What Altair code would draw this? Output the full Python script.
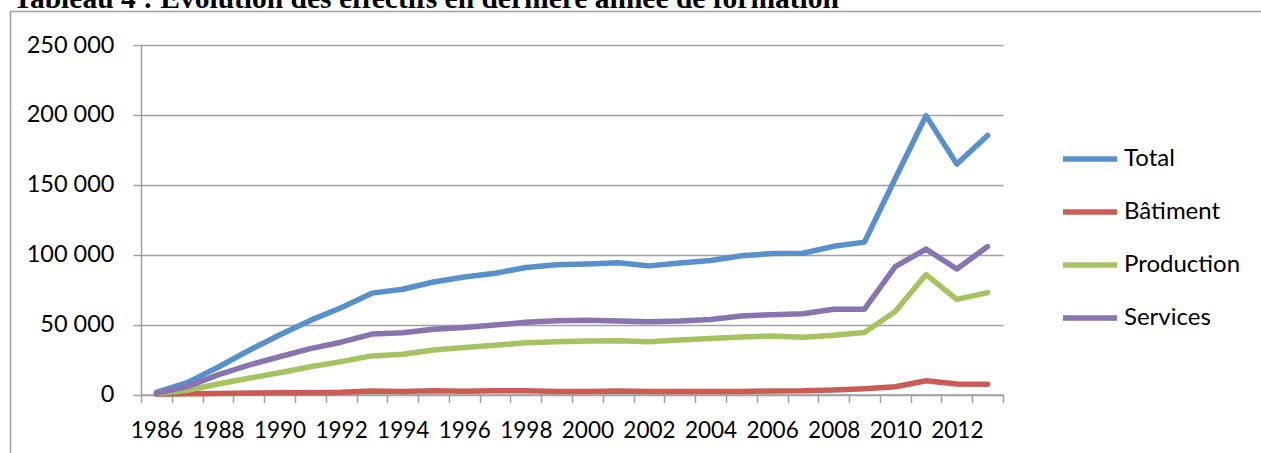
import altair as alt
import pandas as pd

# Effectifs en dernière année de formation, par secteur (1986-2013)
annees = list(range(1986, 2014))
series = ["Total", "Bâtiment", "Production", "Services"]
couleurs = ["#5890CB", "#CB5C55", "#A5C461", "#8A73B1"]

total = [1500, 8500, 19500, 31500, 42500, 53000, 62000, 72500, 75300, 80500,
         84000, 86700, 90800, 92800, 93300, 94200, 92000, 94000, 95800, 99200,
         100800, 101000, 106000, 109000, 154500, 199500, 164800, 185300]
batiment = [200, 500, 800, 1000, 1200, 1300, 1600, 2500, 2200, 2600,
            2300, 2600, 2600, 2200, 2200, 2500, 2200, 2200, 2200, 2200,
            2500, 2600, 3200, 4200, 5500, 9800, 7500, 7400]
production = [500, 3000, 7500, 11600, 15600, 19800, 23500, 27600, 28800, 31900,
              33700, 35200, 37000, 37800, 38200, 38500, 37800, 38900, 40000, 41200,
              41800, 41000, 42400, 44300, 59300, 85800, 68000, 72900]
services = [800, 5600, 14000, 21000, 27000, 32800, 37400, 43200, 44200, 46700,
            48000, 49700, 51600, 52700, 53200, 52600, 52000, 52500, 53700, 56200,
            57100, 57700, 61000, 61000, 91500, 104000, 89800, 105800]
graduations = [0, 50000, 100000, 150000, 200000, 250000]
titre = "Tableau 4 : Évolution des effectifs en dernière année de formation"

valeurs = {"Total": total, "Bâtiment": batiment,
           "Production": production, "Services": services}
df = pd.DataFrame([
    {"annee": a, "serie": s, "effectif": v}
    for s in series for a, v in zip(annees, valeurs[s])
])

GRIS = "#A0A0A0"

lignes = alt.Chart(df).mark_line(
    strokeWidth=5.5, strokeJoin="round", strokeCap="round"
).encode(
    x=alt.X(
        "annee:O",
        bandPosition=0.5,
        scale=alt.Scale(type="band", paddingInner=0, paddingOuter=0),
        axis=alt.Axis(
            title=None, grid=False, tickBand="extent", labelAngle=0,
            labelOverlap=False,
            labelExpr="datum.value % 2 == 0 ? datum.value : ''",
            domainColor=GRIS, domainWidth=1.5, tickColor=GRIS, tickWidth=1.5,
            tickSize=8, labelPadding=17, labelFont="Lato", labelFontSize=22.5,
            labelColor="black",
        ),
    ),
    y=alt.Y(
        "effectif:Q",
        scale=alt.Scale(domain=[0, 250000], nice=False),
        axis=alt.Axis(
            title=None, values=graduations, grid=True, gridColor=GRIS,
            gridWidth=1.5, domainColor=GRIS, domainWidth=1.5, tickColor=GRIS,
            tickWidth=1.5, tickSize=8, labelPadding=19, labelFont="Lato",
            labelFontSize=23.5, labelColor="black",
            labelExpr="replace(format(datum.value, ','), ',', ' ')",
        ),
    ),
    color=alt.Color(
        "serie:N",
        scale=alt.Scale(domain=series, range=couleurs),
        legend=alt.Legend(
            title=None, orient="none", legendX=919, legendY=84,
            symbolType="stroke", symbolSize=2916, symbolStrokeWidth=5.5,
            labelFont="Lato", labelFontSize=24, labelColor="black",
            labelOffset=4, rowPadding=11,
        ),
    ),
    detail="serie:N",
)

# cadre du graphique
cadre = alt.Chart(pd.DataFrame({"c": [0]})).mark_rect(
    filled=False, stroke=GRIS, strokeWidth=1.5
).encode(
    x=alt.value(-130.5), x2=alt.value(1400),
    y=alt.value(-33.5), y2=alt.value(700),
)

entete = alt.Chart(pd.DataFrame({"t": [titre]})).mark_text(
    font="Liberation Serif", fontWeight="bold", fontSize=29.5,
    align="left", baseline="alphabetic", color="black",
).encode(
    x=alt.value(-128), y=alt.value(-37), text="t:N",
)

chart = alt.layer(cadre, lignes, entete).properties(
    width=862, height=349.5,
    autosize=alt.AutoSizeParams(type="none"),
    padding={"left": 141, "top": 45, "right": 258, "bottom": 58.5},
).configure_view(strokeWidth=0)

chart.save("out.html", embed_options={"renderer": "svg", "actions": False})
